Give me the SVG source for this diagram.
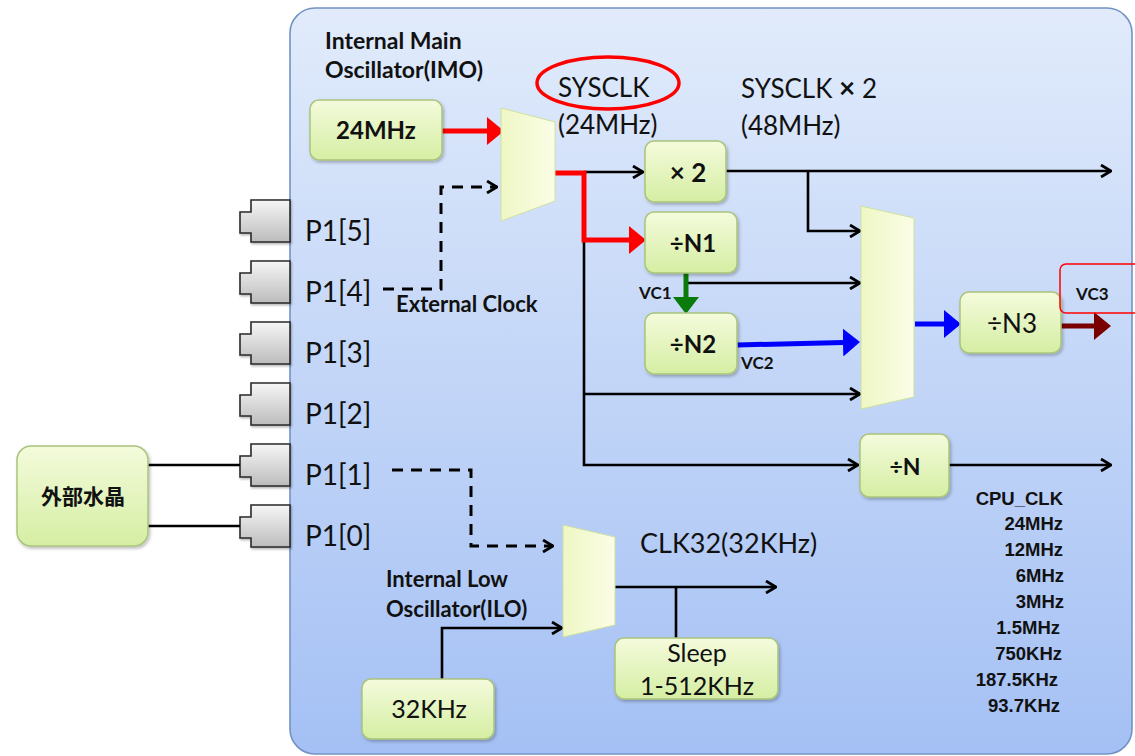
<svg xmlns="http://www.w3.org/2000/svg" width="1135" height="756" viewBox="0 0 1135 756">
<style>
.t{font-family:Lato,"Open Sans",sans-serif;fill:#111}
.b{font-weight:bold}
.m{text-anchor:middle}
.cpu{font-family:"Liberation Sans",Arial,sans-serif;font-weight:bold;font-size:18.5px;fill:#111;text-anchor:end}
.box{fill:url(#gbox);stroke:#a9c47c;stroke-width:1.5;filter:url(#sh)}
.mux{fill:url(#gmux);stroke:#cfe0a0;stroke-width:1}
.pin{fill:url(#gpin);stroke:#2a2a2a;stroke-width:1.6;filter:url(#sh2)}
.k{fill:none;stroke:#000;stroke-width:2.6}
.d{fill:none;stroke:#000;stroke-width:3;stroke-dasharray:11 8}
</style>
<defs>
<linearGradient id="gpanel" x1="0" y1="0" x2="0" y2="1">
<stop offset="0" stop-color="#e1ebfb"/><stop offset="1" stop-color="#a4c0f4"/>
</linearGradient>
<linearGradient id="gbox" x1="0" y1="0" x2="0" y2="1">
<stop offset="0" stop-color="#f4fbdc"/><stop offset="1" stop-color="#d5eea3"/>
</linearGradient>
<linearGradient id="gmux" x1="0" y1="0" x2="1" y2="0">
<stop offset="0" stop-color="#eef7c4"/><stop offset="1" stop-color="#fbfde6"/>
</linearGradient>
<linearGradient id="gpin" x1="0" y1="0" x2="0" y2="1">
<stop offset="0" stop-color="#f6f6f6"/><stop offset="1" stop-color="#bcbcbc"/>
</linearGradient>
<filter id="sh" x="-10%" y="-10%" width="125%" height="130%">
<feDropShadow dx="1.5" dy="2" stdDeviation="1.5" flood-color="#000" flood-opacity="0.25"/>
</filter>
<filter id="sh2" x="-10%" y="-10%" width="125%" height="130%">
<feDropShadow dx="1" dy="1.5" stdDeviation="1" flood-color="#000" flood-opacity="0.3"/>
</filter>
<marker id="ah" viewBox="0 0 12 14" markerWidth="12" markerHeight="14" refX="11" refY="7" orient="auto" markerUnits="userSpaceOnUse">
<path d="M1,1 L11,7 L1,13" fill="none" stroke="#000" stroke-width="2.8"/>
</marker>
<marker id="ar" viewBox="0 0 17 28" markerWidth="17" markerHeight="28" refX="0" refY="14" orient="auto" markerUnits="userSpaceOnUse">
<path d="M0,0 L17,14 L0,28 Z" fill="#ff0000"/>
</marker>
<marker id="ab" viewBox="0 0 17 28" markerWidth="17" markerHeight="28" refX="0" refY="14" orient="auto" markerUnits="userSpaceOnUse">
<path d="M0,0 L17,14 L0,28 Z" fill="#0000ff"/>
</marker>
<marker id="ad" viewBox="0 0 17 28" markerWidth="17" markerHeight="28" refX="0" refY="14" orient="auto" markerUnits="userSpaceOnUse">
<path d="M0,0 L17,14 L0,28 Z" fill="#7a0000"/>
</marker>
<marker id="ag" viewBox="0 0 17 26" markerWidth="17" markerHeight="26" refX="0" refY="13" orient="auto" markerUnits="userSpaceOnUse">
<path d="M0,0 L17,13 L0,26 Z" fill="#0a7a0a"/>
</marker>
</defs>

<rect width="1135" height="756" fill="#ffffff"/>

<g id="panel">
<rect x="290" y="8" width="842" height="746" rx="25" fill="url(#gpanel)" stroke="#7292c4" stroke-width="1.6"/>
</g>

<g id="pins">
<path class="pin" d="M290,200 H251 V212 H240 V233 H251 V242 H290 Z"/>
<path class="pin" d="M290,261 H251 V273 H240 V294 H251 V303 H290 Z"/>
<path class="pin" d="M290,322 H251 V334 H240 V355 H251 V364 H290 Z"/>
<path class="pin" d="M290,383 H251 V395 H240 V416 H251 V425 H290 Z"/>
<path class="pin" d="M290,444 H251 V456 H240 V477 H251 V486 H290 Z"/>
<path class="pin" d="M290,505 H251 V517 H240 V538 H251 V547 H290 Z"/>
<text class="t" x="305" y="241" font-size="28">P1[5]</text>
<text class="t" x="305" y="302" font-size="28">P1[4]</text>
<text class="t" x="305" y="363" font-size="28">P1[3]</text>
<text class="t" x="305" y="424" font-size="28">P1[2]</text>
<text class="t" x="305" y="485" font-size="28">P1[1]</text>
<text class="t" x="305" y="546" font-size="28">P1[0]</text>
</g>

<g id="connectors">
<path class="k" d="M148,465 H240"/>
<path class="k" d="M148,526 H240"/>
<path class="d" d="M383,289 H441 V187 H497" marker-end="url(#ah)"/>
<path class="d" d="M392,470 H471 V546 H553" marker-end="url(#ah)"/>
<path class="k" d="M584,172 H643" marker-end="url(#ah)"/>
<path class="k" d="M584,240 V465 H858" marker-end="url(#ah)"/>
<path class="k" d="M584,394 H860" marker-end="url(#ah)"/>
<path class="k" d="M726,171 H1111" marker-end="url(#ah)"/>
<path class="k" d="M808,171 V231 H860" marker-end="url(#ah)"/>
<path class="k" d="M688,283 H860" marker-end="url(#ah)"/>
<path class="k" d="M949,465 H1111" marker-end="url(#ah)"/>
<path class="k" d="M615,587 H776" marker-end="url(#ah)"/>
<path class="k" d="M676,587 V638"/>
<path class="k" d="M442,679 V628 H562" marker-end="url(#ah)"/>
<path fill="none" stroke="#ff0000" stroke-width="5" d="M442,131 H487" marker-end="url(#ar)"/>
<path fill="none" stroke="#ff0000" stroke-width="5" d="M555,173 H584 V240 H629" marker-end="url(#ar)"/>
<path fill="none" stroke="#0a7a0a" stroke-width="5" d="M686,273 V297" marker-end="url(#ag)"/>
<path fill="none" stroke="#0000ff" stroke-width="5" d="M737,345 L843,342.5" marker-end="url(#ab)"/>
<path fill="none" stroke="#0000ff" stroke-width="5" d="M915,324 H944" marker-end="url(#ab)"/>
<path fill="none" stroke="#7a0000" stroke-width="5" d="M1061,326 H1094" marker-end="url(#ad)"/>
</g>

<g id="imo-label">
<text class="t b" x="325" y="49" font-size="23">Internal Main</text>
<text class="t b" x="325" y="78" font-size="23">Oscillator(IMO)</text>
</g>

<g id="osc24">
<rect class="box" x="310" y="100" width="132" height="60" rx="9"/>
<text class="t b m" x="376" y="139" font-size="24">24MHz</text>
</g>

<g id="mux1"><polygon class="mux" points="501,108 555,122 555,201 501,221"/></g>
<g id="mux2"><polygon class="mux" points="861,206 914,218 914,397 861,409"/></g>
<g id="mux3"><polygon class="mux" points="563,525 615,537 615,625 563,637"/></g>

<g id="sysclk-label">
<ellipse cx="608" cy="83" rx="71" ry="26" fill="none" stroke="#ff0000" stroke-width="3.5"/>
<text class="t" x="558" y="97" font-size="26">SYSCLK</text>
<text class="t" x="558" y="134" font-size="26">(24MHz)</text>
</g>

<g id="sysclk2-label">
<text class="t" x="741" y="98" font-size="26">SYSCLK <tspan font-weight="bold" font-size="28">×</tspan> 2</text>
<text class="t" x="741" y="135" font-size="26">(48MHz)</text>
</g>

<g id="x2">
<rect class="box" x="645" y="141" width="81" height="61" rx="9"/>
<text class="t b m" x="688" y="182" font-size="26">× 2</text>
</g>

<g id="n1">
<rect class="box" x="645" y="212" width="92" height="61" rx="9"/>
<text class="t b m" x="693" y="252" font-size="24">÷N1</text>
</g>

<g id="n2">
<rect class="box" x="645" y="313" width="92" height="61" rx="9"/>
<text class="t b m" x="693" y="353" font-size="24">÷N2</text>
</g>

<g id="vc-labels">
<text class="t b" x="639" y="299" font-size="17">VC1</text>
<text class="t b" x="741" y="369" font-size="17">VC2</text>
</g>

<g id="n3">
<rect class="box" x="960" y="292" width="101" height="61" rx="9"/>
<text class="t m" x="1012" y="333" font-size="26">÷N3</text>
</g>

<g id="vc3">
<rect x="1060" y="264" width="90" height="49" rx="6" fill="none" stroke="#ff0000" stroke-width="1.5"/>
<text class="t b" x="1076" y="300" font-size="17">VC3</text>
</g>

<g id="ndiv">
<rect class="box" x="860" y="434" width="89" height="63" rx="9"/>
<text class="t b m" x="905" y="475" font-size="23">÷N</text>
</g>

<g id="ext-clock-label">
<text class="t b" x="396" y="312" font-size="22">External Clock</text>
</g>

<g id="crystal">
<rect class="box" x="17" y="446" width="131" height="100" rx="14"/>
<text class="b m" x="83" y="504" font-size="21" font-family="'Noto Sans CJK JP','Noto Sans CJK SC',sans-serif" fill="#111">外部水晶</text>
</g>

<g id="clk32-label">
<text class="t" x="640" y="553" font-size="27">CLK32(32KHz)</text>
</g>

<g id="ilo-label">
<text class="t b" x="386" y="587" font-size="22">Internal Low</text>
<text class="t b" x="386" y="617" font-size="22">Oscillator(ILO)</text>
</g>

<g id="sleep">
<rect class="box" x="615" y="638" width="163" height="61" rx="9"/>
<text class="t m" x="697" y="662" font-size="25">Sleep</text>
<text class="t m" x="697" y="695" font-size="25">1-512KHz</text>
</g>

<g id="osc32">
<rect class="box" x="362" y="679" width="132" height="60" rx="9"/>
<text class="t m" x="429" y="718" font-size="25">32KHz</text>
</g>

<g id="cpu-clk">
<text class="cpu" x="1063" y="505">CPU_CLK</text>
<text class="cpu" x="1063" y="530">24MHz</text>
<text class="cpu" x="1063" y="556">12MHz</text>
<text class="cpu" x="1064" y="582">6MHz</text>
<text class="cpu" x="1064" y="608">3MHz</text>
<text class="cpu" x="1060" y="634">1.5MHz</text>
<text class="cpu" x="1062" y="660">750KHz</text>
<text class="cpu" x="1058" y="686">187.5KHz</text>
<text class="cpu" x="1060" y="712">93.7KHz</text>
</g>
</svg>
